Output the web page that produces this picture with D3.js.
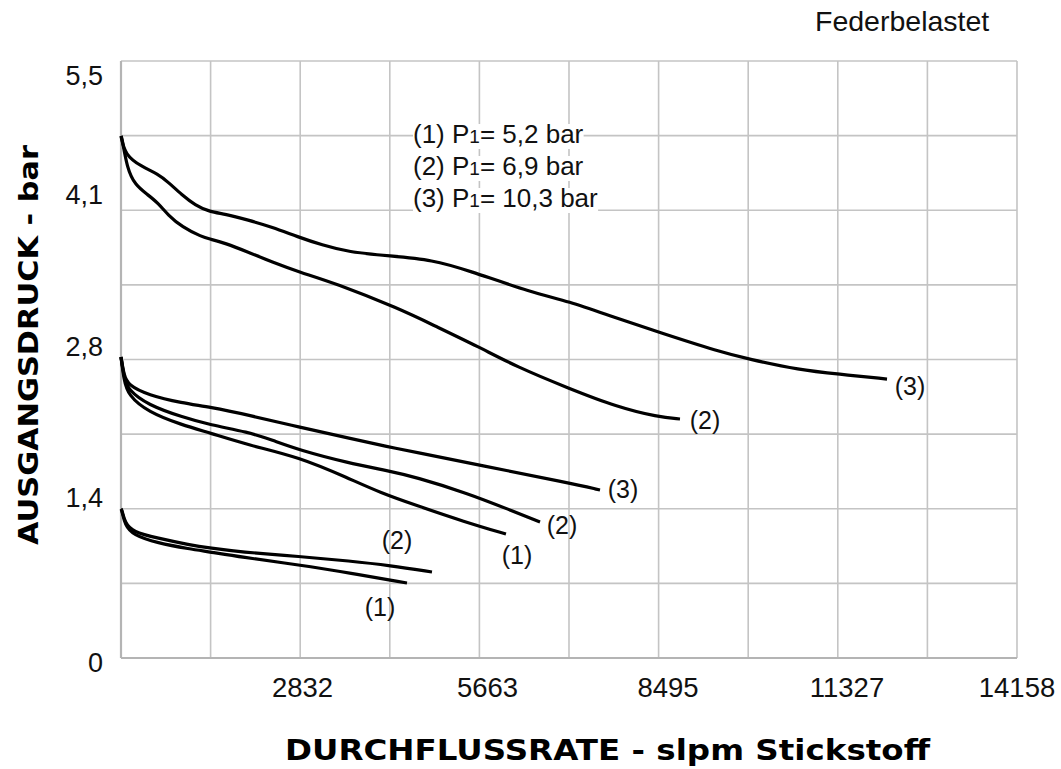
<!DOCTYPE html>
<html><head><meta charset="utf-8">
<script src="https://cdn.jsdelivr.net/npm/d3@7"></script>
<style>html,body{margin:0;padding:0;background:#fff;}svg{display:block;font-family:"Liberation Sans",Arial,sans-serif;}</style>
</head><body>
<svg id="c" width="1061" height="769"></svg>
<script>
// ---- data (x: slpm Stickstoff, y: bar) ----
const xTicks = [2832, 5663, 8495, 11327, 14158];
const xTickLabels = ["2832", "5663", "8495", "11327", "14158"];
const xTickLabelPos = [2868, 5791, 8643, 11472, 14158];
const yTickLabels = ["0", "1,4", "2,8", "4,1", "5,5"];
const yTickLabelPos = [-0.13, 1.39, 2.78, 4.18, 5.28];
const legendLines = [["(1) P", "1", "= 5,2 bar"], ["(2) P", "1", "= 6,9 bar"], ["(3) P", "1", "= 10,3 bar"]];

// high outlet setting
const hi3x = [0, 63, 327, 585, 743, 964, 1169, 1406, 1643, 2007, 2386, 2797, 3176, 3587, 4250, 4930, 5467, 6510, 7063, 7774, 8485, 9465, 9907, 10729, 11329, 12104];
const hi3y = [4.809, 4.634, 4.526, 4.459, 4.385, 4.266, 4.173, 4.109, 4.091, 4.035, 3.971, 3.879, 3.805, 3.740, 3.704, 3.667, 3.575, 3.363, 3.289, 3.142, 3.003, 2.819, 2.755, 2.653, 2.616, 2.570];
const hi2x = [0, 16, 95, 221, 427, 585, 743, 964, 1280, 1406, 1643, 2007, 2386, 2813, 3381, 4408, 4930, 5657, 6257, 7063, 7837, 8485, 8833];
const hi2y = [4.809, 4.791, 4.514, 4.358, 4.266, 4.192, 4.081, 3.971, 3.879, 3.860, 3.823, 3.740, 3.648, 3.556, 3.455, 3.215, 3.068, 2.865, 2.681, 2.487, 2.312, 2.220, 2.202];
// medium outlet setting
const mid3x = [0, 47, 111, 427, 964, 1406, 2007, 2813, 3587, 4235, 4646, 5657, 7079, 7569];
const mid3y = [2.773, 2.607, 2.515, 2.423, 2.349, 2.312, 2.239, 2.128, 2.027, 1.944, 1.898, 1.778, 1.612, 1.548];
const mid2x = [0, 47, 111, 427, 964, 1406, 2007, 2386, 2813, 3587, 4235, 4646, 5467, 6146, 6621];
const mid2y = [2.773, 2.589, 2.469, 2.331, 2.220, 2.147, 2.082, 2.008, 1.916, 1.797, 1.723, 1.668, 1.520, 1.364, 1.253];
const mid1x = [0, 47, 111, 427, 964, 1406, 2007, 2813, 3587, 4108, 4646, 5436, 6083];
const mid1y = [2.773, 2.561, 2.423, 2.266, 2.147, 2.073, 1.962, 1.852, 1.658, 1.520, 1.410, 1.253, 1.142];
// low outlet setting
const lo2x = [0, 16, 63, 190, 569, 1090, 1406, 1880, 2829, 3618, 4250, 4914];
const lo2y = [1.373, 1.364, 1.244, 1.161, 1.106, 1.041, 1.013, 0.977, 0.935, 0.894, 0.852, 0.792];
const lo1x = [0, 16, 63, 190, 569, 1090, 1406, 1880, 2829, 3618, 4519];
const lo1y = [1.373, 1.354, 1.225, 1.133, 1.060, 1.004, 0.977, 0.931, 0.857, 0.783, 0.691];

const curveLabels = ["(3)", "(2)", "(3)", "(2)", "(1)", "(2)", "(1)"];
const curveLabelX = [12467, 9228, 7932, 6968, 6257, 4361, 4093];
const curveLabelY = [2.506, 2.193, 1.557, 1.225, 0.949, 1.087, 0.470];

// ---- drawing ----
const svg = d3.select("#c");
const x = d3.scaleLinear().domain([0, 14158]).range([121, 1017]);
const y = d3.scaleLinear().domain([0, 5.5]).range([658, 61]);
const grid = "#c4c4c4";

const g = svg.append("g");
// grid
g.selectAll("line.vx").data(d3.range(0, 11)).join("line")
  .attr("x1", i => x(i * 14158 / 10)).attr("x2", i => x(i * 14158 / 10))
  .attr("y1", y(0)).attr("y2", y(5.5))
  .attr("stroke", grid).attr("stroke-width", 1.6);
g.selectAll("line.hy").data(d3.range(0, 9)).join("line")
  .attr("y1", i => y(i * 5.5 / 8)).attr("y2", i => y(i * 5.5 / 8))
  .attr("x1", x(0)).attr("x2", x(14158))
  .attr("stroke", grid).attr("stroke-width", 1.6);
// left and bottom border a bit darker
g.append("line").attr("x1", x(0)).attr("x2", x(0)).attr("y1", y(0)).attr("y2", y(5.5)).attr("stroke", "#b4b4b4").attr("stroke-width", 2.2);
g.append("line").attr("x1", x(0)).attr("x2", x(14158)).attr("y1", y(0)).attr("y2", y(0)).attr("stroke", "#b4b4b4").attr("stroke-width", 2.2);

// x tick labels
svg.selectAll("text.xt").data(xTickLabels).join("text")
  .attr("x", (d, i) => x(xTickLabelPos[i])).attr("y", 697)
  .attr("text-anchor", "middle").attr("font-size", 27.5).attr("fill", "#111").text(d => d);
// y tick labels
svg.selectAll("text.yt").data(yTickLabels).join("text")
  .attr("x", 103).attr("y", (d, i) => y(yTickLabelPos[i]))
  .attr("text-anchor", "end").attr("font-size", 27).attr("fill", "#111").text(d => d);

// legend
const leg = svg.append("g").attr("transform", "translate(413,0)");
legendLines.forEach((ln, i) => {
  const by = 143 + i * 32;
  const t = leg.append("text").attr("x", 0).attr("y", by).attr("font-size", 26).attr("fill", "#111");
  t.append("tspan").text(ln[0]);
  t.append("tspan").attr("font-size", 19).text(ln[1]);
  t.append("tspan").text(ln[2]);
  const bb = t.node().getBBox();
  leg.insert("rect", "text").attr("x", bb.x).attr("y", by - 19).attr("width", bb.width).attr("height", 25).attr("fill", "#fff");
});

// curves
const line = d3.line().x(d => x(d[0])).y(d => y(d[1])).curve(d3.curveBasis);
const series = [[hi3x, hi3y], [hi2x, hi2y], [mid3x, mid3y], [mid2x, mid2y], [mid1x, mid1y], [lo2x, lo2y], [lo1x, lo1y]];
svg.append("g").selectAll("path").data(series).join("path")
  .attr("d", s => line(s[0].map((v, i) => [v, s[1][i]])))
  .attr("fill", "none").attr("stroke", "#000").attr("stroke-width", 3.2)
  .attr("stroke-linecap", "butt").attr("stroke-linejoin", "round");

// curve labels
svg.selectAll("text.cl").data(curveLabels).join("text")
  .attr("x", (d, i) => x(curveLabelX[i])).attr("y", (d, i) => y(curveLabelY[i]))
  .attr("text-anchor", "middle").attr("dominant-baseline", "central")
  .attr("font-size", 25).attr("fill", "#111").text(d => d);

// titles
svg.append("text").attr("x", 815).attr("y", 31).attr("font-size", 28.5).attr("fill", "#111").text("Federbelastet");
svg.append("text").attr("x", 285).attr("y", 760).attr("font-family", "'DejaVu Sans',sans-serif")
  .attr("font-weight", "bold").attr("font-size", 29).attr("fill", "#000")
  .attr("textLength", 645).attr("lengthAdjust", "spacingAndGlyphs").text("DURCHFLUSSRATE - slpm Stickstoff");
svg.append("text").attr("transform", "translate(38,545) rotate(-90)").attr("font-family", "'DejaVu Sans',sans-serif")
  .attr("font-weight", "bold").attr("font-size", 27).attr("fill", "#000")
  .attr("textLength", 400).attr("lengthAdjust", "spacingAndGlyphs").text("AUSGANGSDRUCK - bar");
</script>
</body></html>
